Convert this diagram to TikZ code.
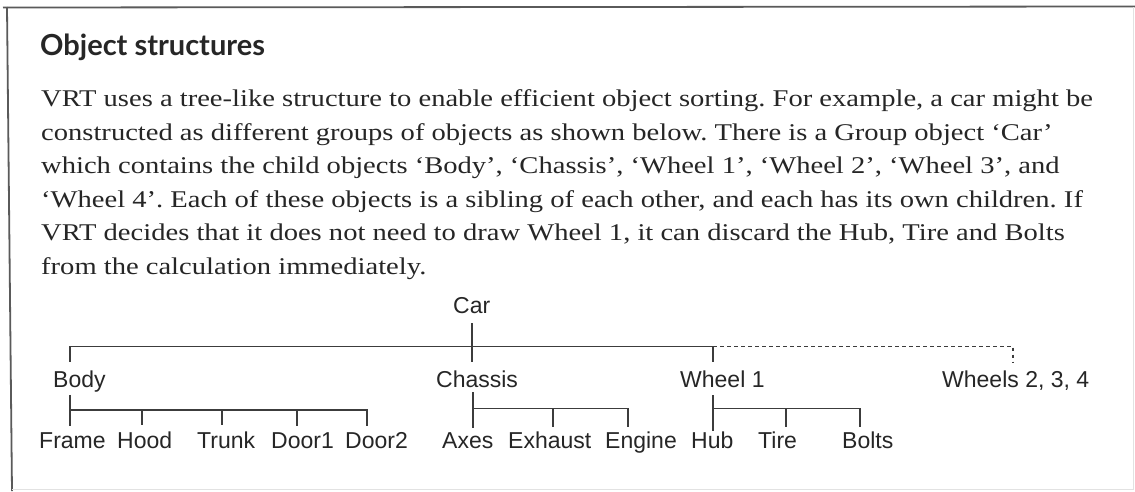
\documentclass[tikz,border=0pt]{standalone}
\usepackage{fontspec}
\setmainfont{Liberation Serif}
\setsansfont{Liberation Sans}
\newfontfamily\headfont{Lato}
\newfontfamily\parafont[FakeStretch=1.19]{Liberation Serif}
\usetikzlibrary{calc}
\definecolor{ink}{HTML}{262626}
\definecolor{linec}{HTML}{3C3C3C}
\definecolor{framec}{HTML}{5A5A5A}
\definecolor{faint}{HTML}{E2E2E2}
\tikzset{
  lbl/.style={font=\sffamily\fontsize{23}{27}\selectfont, text=ink, inner sep=0pt, anchor=base west},
  para/.style={font=\parafont\frenchspacing\fontsize{24}{28}\selectfont, text=ink, inner sep=0pt, anchor=base west},
  head/.style={font=\headfont\bfseries\fontsize{29}{33}\selectfont, text=ink, inner sep=0pt, anchor=base west},
  tree/.style={draw=linec, line width=1.5pt},
  dots/.style={draw=linec, line width=1.4pt, dash pattern=on 3.5pt off 3.5pt},
  framel/.style={draw=framec, line width=1.8pt},
}
\begin{document}
\begin{tikzpicture}[x=1pt,y=-1pt]
\useasboundingbox (0,0) rectangle (1135,491);
\fill[white] (0,0) rectangle (1135,491);
% frame
\draw[framel] (3,7.5) -- (1135,6.5);
\draw[framel] (7,7) -- (12,491);
\draw[faint, line width=1pt] (1133.5,7) -- (1133.5,489) -- (12,489);
% heading and paragraph
\node[head] (title) at (40,55) {Object structures};
\node[para] (l1) at (41,106.5) {VRT uses a tree-like structure to enable efficient object sorting. For example, a car might be};
\node[para] (l2) at (41,140) {constructed as different groups of objects as shown below. There is a Group object ‘Car’};
\node[para] (l3) at (41,173.5) {which contains the child objects ‘Body’, ‘Chassis’, ‘Wheel 1’, ‘Wheel 2’, ‘Wheel 3’, and};
\node[para] (l4) at (41,207) {‘Wheel 4’. Each of these objects is a sibling of each other, and each has its own children. If};
\node[para] (l5) at (41,240.5) {VRT decides that it does not need to draw Wheel 1, it can discard the Hub, Tire and Bolts};
\node[para] (l6) at (41,274) {from the calculation immediately.};
% tree labels
\node[lbl] (car) at (453,313) {Car};
\node[lbl] (body) at (53,387) {Body};
\node[lbl] (chassis) at (436,387) {Chassis};
\node[lbl] (wheel) at (680,387) {Wheel 1};
\node[lbl] (wheels) at (942,387) {Wheels 2, 3, 4};
\node[lbl] (frame) at (39,448) {Frame};
\node[lbl] (hood) at (117,448) {Hood};
\node[lbl] (trunk) at (197,448) {Trunk};
\node[lbl] (door1) at (271,448) {Door1};
\node[lbl] (door2) at (345,448) {Door2};
\node[lbl] (axes) at (442,448) {Axes};
\node[lbl] (exhaust) at (508,448) {Exhaust};
\node[lbl] (engine) at (605,448) {Engine};
\node[lbl] (hub) at (691,448) {Hub};
\node[lbl] (tire) at (758,448) {Tire};
\node[lbl] (bolts) at (842,448) {Bolts};
% junctions of the top level
\coordinate (jB) at (70,346.5);
\coordinate (jC) at (472,346.5);
\coordinate (jW) at (713,346.5);
\coordinate (jR) at (1013,346.5);
% top level
\draw[tree] ($(jC |- car.south)+(0,10)$) -- ($(jC |- chassis.north)+(0,-8.5)$);
\draw[tree] ($(jB |- body.north)+(0,-8.5)$) -- (jB) -- (jW) -- ($(jW |- wheel.north)+(0,-8)$);
\draw[dots] (jW) -- (jR) -- ($(jR |- wheels.north)+(0,-8.5)$);
% body subtree
\coordinate (bB) at (70,410);
\coordinate (bHood) at (142,410);
\coordinate (bTrunk) at (222,410);
\coordinate (bDoor1) at (297,410);
\coordinate (bDoor2) at (367,410);
\draw[tree] ($(bB |- body.south)+(0,3)$) -- ($(bB |- frame.north)+(0,-6)$);
\draw[tree] (bB) -- (bDoor2) -- ($(bDoor2 |- door2.north)+(0,-6)$);
\draw[tree] (bHood) -- ($(bHood |- hood.north)+(0,-6)$);
\draw[tree] (bTrunk) -- ($(bTrunk |- trunk.north)+(0,-6)$);
\draw[tree] (bDoor1) -- ($(bDoor1 |- door1.north)+(0,-6)$);
% chassis subtree
\coordinate (cB) at (473,408.5);
\coordinate (cEx) at (553,408.5);
\coordinate (cEn) at (628,408.5);
\draw[tree] ($(cB |- chassis.south)+(0,5)$) -- ($(cB |- axes.north)+(0,-4)$);
\draw[tree] (cB) -- (cEn) -- ($(cEn |- engine.north)+(0,-4)$);
\draw[tree] (cEx) -- ($(cEx |- exhaust.north)+(0,-4)$);
% wheel subtree
\coordinate (wB) at (713,408.5);
\coordinate (wTire) at (786,408.5);
\coordinate (wBolts) at (860,408.5);
\draw[tree] ($(wB |- wheel.south)+(0,8)$) -- (wB |- hub.north);
\draw[tree] (wB) -- (wBolts) -- ($(wBolts |- bolts.north)+(0,-4)$);
\draw[tree] (wTire) -- ($(wTire |- tire.north)+(0,-4)$);
\end{tikzpicture}
\end{document}
